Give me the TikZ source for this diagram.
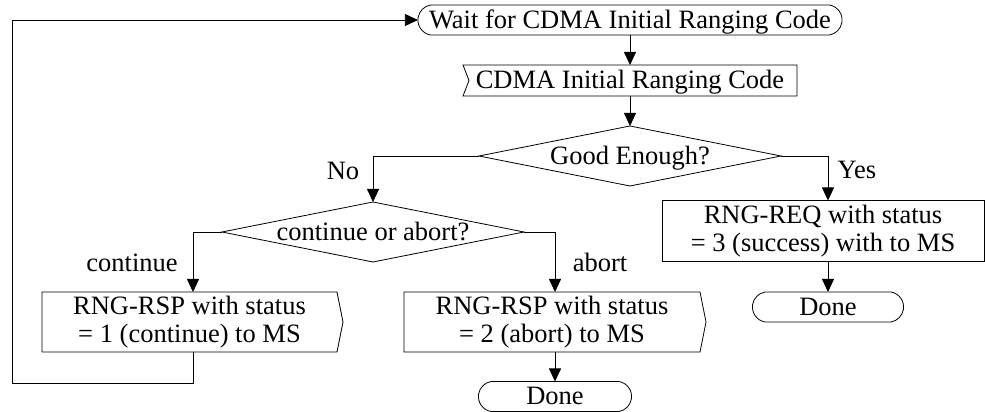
\documentclass[tikz,border=0pt]{standalone}
\usepackage{fontspec}
\setmainfont{Liberation Serif}
\usetikzlibrary{shapes.geometric,arrows.meta,calc}
\newcommand\termpath[1]{\draw[ln] (#1.north west) -- (#1.north east) arc[start angle=80,end angle=-80,radius=15.23pt] -- (#1.south west) arc[start angle=260,end angle=100,radius=15.23pt] -- cycle;}
\begin{document}
\begin{tikzpicture}[x=1pt,y=1pt,
  ln/.style={line width=0.8pt, black},
  arr/.style={ln, -{Triangle[length=13pt,width=12pt]}},
  txt/.style={font=\fontsize{26.5}{28}\selectfont, inner sep=0pt, outer sep=0pt, text height=17pt, text depth=0pt},
  box/.style={font=\fontsize{26.5}{28}\selectfont, inner sep=0pt, outer sep=0pt, align=center, rectangle},
  dec/.style={txt, diamond, draw, line width=0.8pt, aspect=5, minimum width=302pt, minimum height=60pt},
  lab/.style={font=\fontsize{26.5}{28}\selectfont, inner sep=0pt, anchor=base}
]
\useasboundingbox (0,0) rectangle (985,412);
% states and shapes
\node[txt, minimum width=399pt, minimum height=30pt, inner xsep=-3pt] (wait) at (630,392) {Wait for CDMA Initial Ranging Code};
\termpath{wait}
\node[txt, minimum width=334pt, minimum height=31pt] (inp) at (630,331.5) {CDMA Initial Ranging Code};
\draw[ln] (inp.north west) -- (inp.north east) -- (inp.south east) -- (inp.south west) -- ($(inp.west)+(6,0)$) -- cycle;
\node[dec] (d1) at (630,256) {Good Enough?};
\node[dec] (d2) at (373,180) {continue or abort?};
\node[box, minimum width=295pt, minimum height=60pt] (rsp1) at (189.5,90) {RNG-RSP with status\\= 1 (continue) to MS};
\draw[ln] (rsp1.north west) -- (rsp1.north east) -- ($(rsp1.east)+(6,0)$) -- (rsp1.south east) -- (rsp1.south west) -- cycle;
\node[box, minimum width=296pt, minimum height=60pt] (rsp2) at (552,90) {RNG-RSP with status\\= 2 (abort) to MS};
\draw[ln] (rsp2.north west) -- (rsp2.north east) -- ($(rsp2.east)+(6,0)$) -- (rsp2.south east) -- (rsp2.south west) -- cycle;
\node[box, minimum width=322pt, minimum height=61pt, draw, line width=0.8pt] (req) at (823,181) {RNG-REQ with status\\= 3 (success) with to MS};
\node[txt, minimum width=126pt, minimum height=30pt] (done1) at (828,105) {Done};
\termpath{done1}
\node[txt, minimum width=128pt, minimum height=30pt] (done2) at (555,15.5) {Done};
\termpath{done2}
% labels
\node[lab] (no) at (343,232) {No};
\node[lab] (yes) at (857,233) {Yes};
\node[lab] (cont) at (132,140) {continue};
\node[lab] (abrt) at (600,140) {abort};
% connectors
\coordinate (fb) at (12,29);
\draw[arr] (wait.south) -- (inp.north);
\draw[arr] (inp.south) -- (d1.north);
\draw[arr] (d1.west) -| (d2.north);
\draw[arr] (d1.east) -| (req.north -| done1.north);
\draw[arr] (d2.west) -| ([xshift=3.5pt]rsp1.north);
\draw[arr] (d2.east) -| (rsp2.north -| done2.north);
\draw[arr] (rsp2.south -| done2.north) -- (done2.north);
\draw[arr] (req.south -| done1.north) -- (done1.north);
\draw[arr] ([xshift=3.5pt]rsp1.south) |- (fb) |- ([xshift=-12.6pt]wait.west);
\end{tikzpicture}
\end{document}
